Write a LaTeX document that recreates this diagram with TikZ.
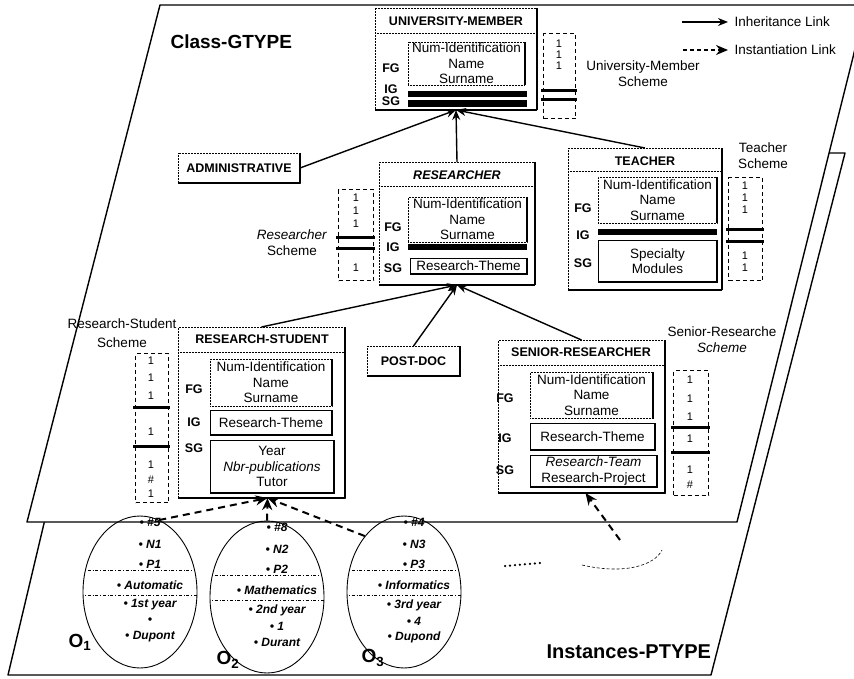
\documentclass[tikz,border=0pt]{standalone}
\usepackage{fontspec}
\setmainfont{Liberation Sans}
\usetikzlibrary{shapes,arrows.meta}

\tikzset{
  plane/.style={draw,line width=1.4pt,fill=white,line join=round},
  rim/.style={append after command={
      (\tikzlastnode.north east) edge[solid,line width=1.6pt] (\tikzlastnode.south east)
      (\tikzlastnode.south east) edge[solid,line width=1.6pt] (\tikzlastnode.south west)}},
  rimr/.style={append after command={
      (\tikzlastnode.north east) edge[solid,line width=1.6pt] (\tikzlastnode.south east)}},
  classbox/.style={draw,densely dotted,line width=0.5pt,inner sep=0pt,outer sep=0pt,anchor=north west,rim},
  title/.style={font=\fontsize{12.5}{14}\selectfont\bfseries},
  sepline/.style={densely dotted,line width=0.5pt},
  grp/.style={font=\fontsize{12.5}{14}\selectfont\bfseries,inner sep=0pt},
  fgbox/.style={draw,densely dotted,line width=0.5pt,inner sep=0pt,outer sep=0pt,anchor=north west,
      font=\fontsize{13.5}{15.5}\selectfont,align=center,rimr},
  sgbox/.style={draw,line width=0.8pt,inner sep=0pt,outer sep=0pt,anchor=north west,
      font=\fontsize{13.5}{15.5}\selectfont,align=center,rim},
  blackbar/.style={fill=black,inner sep=0pt,outer sep=0pt,anchor=north west},
  scheme/.style={draw,line width=1.3pt,dash pattern=on 4pt off 3pt,inner sep=0pt,anchor=north west},
  num/.style={font=\fontsize{11}{12}\selectfont,inner sep=0pt},
  bar/.style={line width=3pt},
  schemelabel/.style={font=\fontsize{13.5}{16}\selectfont,align=center},
  inh/.style={line width=1.4pt,-{Stealth[length=10pt,width=8pt]}},
  ins/.style={line width=2pt,dash pattern=on 7pt off 5pt,-{Stealth[length=12pt,width=10pt]}},
  inst/.style={draw,ellipse,line width=0.9pt,inner sep=0pt,minimum width=114pt,minimum height=152pt},
  item/.style={font=\fontsize{12}{14}\selectfont\bfseries\itshape,inner sep=0pt},
  cut/.style={line width=0.5pt,dash pattern=on 3pt off 2pt on 0.6pt off 2pt},
  planelabel/.style={font=\fontsize{19}{22}\selectfont\bfseries,anchor=west},
  objlabel/.style={font=\fontsize{19}{22}\selectfont\bfseries},
}

\begin{document}
\begin{tikzpicture}[x=1pt,y=-1pt]
\path[use as bounding box] (0,0) rectangle (854,679);
\clip (0,0) rectangle (854,679);
% the two planes
\draw[plane] (132,153) -- (845,153) -- (711,675) -- (8,675) -- cycle;
\draw[plane] (160,5) -- (866,5) -- (737,522) -- (27,522) -- cycle;
\node[planelabel] (gtype) at (167,42) {Class-GTYPE};
\node[planelabel,font=\fontsize{20}{22}\selectfont\bfseries] (ptype) at (543,652) {Instances-PTYPE};

% legend
\coordinate (li1) at (682,22);
\coordinate (li2) at (728,22);
\coordinate (ls1) at (683,50);
\coordinate (ls2) at (728,50);
\draw[inh] (li1) -- (li2);
\draw[ins,line width=1.5pt,dash pattern=on 4pt off 3pt] (ls1) -- (ls2);
\node[anchor=west,schemelabel] (linh) at (731,22) {Inheritance Link};
\node[anchor=west,schemelabel] (lins) at (731,50) {Instantiation Link};

% university-member
\node[classbox,minimum width=162pt,minimum height=102pt] (um) at (375,8) {};
\node[title] (umt) at (456,21) {UNIVERSITY-MEMBER};
\draw[sepline] (375,33) -- (537,33);
\node[grp] (umfg) at (391,68) {FG};
\node[grp] (umig) at (391,89) {IG};
\node[grp] (umsg) at (391,101) {SG};
\node[fgbox,minimum width=117pt,minimum height=43pt] (umf) at (408,42) {Num-Identification\\Name\\Surname};
\node[blackbar,minimum width=119pt,minimum height=6pt] (umi) at (408,91) {};
\node[blackbar,minimum width=119pt,minimum height=7pt] (ums) at (408,100) {};
% its scheme
\node[scheme,minimum width=32pt,minimum height=85pt] (umsc) at (543,33) {};
\node[num] (umsc1) at (559,44) {1};
\node[num] (umsc2) at (559,55) {1};
\node[num] (umsc3) at (559,66) {1};
\draw[bar] (541,91) -- (577,91);
\draw[bar] (541,100) -- (577,100);
\node[schemelabel] (umscl) at (643,74) {University-Member\\Scheme};

% administrative
\node[classbox,title,minimum width=122pt,minimum height=30pt] (adm) at (178,153) {ADMINISTRATIVE};

% researcher
\node[classbox,minimum width=156pt,minimum height=123pt] (res) at (379,162) {};
\node[title] (rest) at (457,175) {\itshape RESEARCHER};
\draw[sepline] (379,186) -- (535,186);
\node[grp] (resfg) at (393,227) {FG};
\node[grp] (resig) at (393,247) {IG};
\node[grp] (ressg) at (393,268) {SG};
\node[fgbox,minimum width=119pt,minimum height=45pt] (resf) at (408,197) {Num-Identification\\Name\\Surname};
\node[blackbar,minimum width=119pt,minimum height=6pt] (resi) at (408,244) {};
\node[sgbox,minimum width=117pt,minimum height=16pt] (ress) at (410,258) {Research-Theme};
% its scheme
\node[scheme,minimum width=35pt,minimum height=91pt] (ressc) at (338,189) {};
\node[num] (ressc1) at (356,198) {1};
\node[num] (ressc2) at (356,211) {1};
\node[num] (ressc3) at (356,224) {1};
\draw[bar] (336,238) -- (375,238);
\draw[bar] (336,248) -- (375,248);
\node[num] (ressc4) at (356,268) {1};
\node[schemelabel] (resscl) at (292,243) {\textit{Researcher}\\Scheme};

% teacher
\node[classbox,minimum width=154pt,minimum height=142pt] (tea) at (568,148) {};
\node[title] (teat) at (645,161) {TEACHER};
\draw[sepline] (568,171) -- (722,171);
\node[grp] (teafg) at (583,208) {FG};
\node[grp] (teaig) at (583,235) {IG};
\node[grp] (teasg) at (583,263) {SG};
\node[fgbox,minimum width=119pt,minimum height=46pt] (teaf) at (598,177) {Num-Identification\\Name\\Surname};
\node[blackbar,minimum width=119pt,minimum height=6pt] (teai) at (598,229) {};
\node[sgbox,minimum width=119pt,minimum height=42pt] (teas) at (598,240) {Specialty\\Modules};
% its scheme
\node[scheme,minimum width=34pt,minimum height=103pt] (teasc) at (728,177) {};
\node[num] (teasc1) at (745,186) {1};
\node[num] (teasc2) at (745,198) {1};
\node[num] (teasc3) at (745,210) {1};
\draw[bar] (726,230) -- (764,230);
\draw[bar] (726,242) -- (764,242);
\node[num] (teasc4) at (745,256) {1};
\node[num] (teasc5) at (745,268) {1};
\node[schemelabel] (teascl) at (763,156) {Teacher\\Scheme};

% research-student
\node[classbox,minimum width=167pt,minimum height=171pt] (rs) at (178,327) {};
\node[title] (rst) at (262,339) {RESEARCH-STUDENT};
\draw[sepline] (178,352) -- (345,352);
\node[grp] (rsfg) at (194,389) {FG};
\node[grp] (rsig) at (194,422) {IG};
\node[grp] (rssg) at (194,448) {SG};
\node[fgbox,minimum width=122pt,minimum height=47pt] (rsf) at (210,359) {Num-Identification\\Name\\Surname};
\node[sgbox,minimum width=122pt,minimum height=25pt] (rsi) at (210,410) {Research-Theme};
\node[sgbox,minimum width=124pt,minimum height=53pt] (rss) at (210,440) {Year\\\textit{Nbr-publications}\\Tutor};
% its scheme
\node[scheme,minimum width=33pt,minimum height=149pt] (rssc) at (135,353) {};
\node[num] (rssc1) at (151,361) {1};
\node[num] (rssc2) at (151,378) {1};
\node[num] (rssc3) at (151,396) {1};
\draw[bar] (133,407) -- (170,407);
\node[num] (rssc4) at (151,432) {1};
\draw[bar] (133,446) -- (170,446);
\node[num] (rssc5) at (151,465) {1};
\node[num] (rssc6) at (151,480) {\#};
\node[num] (rssc7) at (151,494) {1};
\node[schemelabel] (rsscl) at (122,333) {Research-Student\\[3pt]Scheme};

% post-doc
\node[classbox,title,minimum width=93pt,minimum height=30pt] (pd) at (367,346) {POST-DOC};

% senior-researcher
\node[classbox,minimum width=167pt,minimum height=153pt] (sr) at (498,340) {};
\node[title] (srt) at (581,352) {SENIOR-RESEARCHER};
\draw[sepline] (498,365) -- (665,365);
\node[grp] (srfg) at (505,398) {FG};
\node[grp] (srig) at (505,438) {IG};
\node[grp] (srsg) at (505,470) {SG};
\node[fgbox,minimum width=123pt,minimum height=46pt] (srf) at (530,372) {Num-Identification\\Name\\Surname};
\node[sgbox,minimum width=125pt,minimum height=27pt] (sri) at (530,423) {Research-Theme};
\node[sgbox,minimum width=127pt,minimum height=32pt] (srs) at (530,455) {\textit{Research-Team}\\Research-Project};
% its scheme
\node[scheme,minimum width=35pt,minimum height=125pt] (srsc) at (673,370) {};
\node[num] (srsc1) at (690,380) {1};
\node[num] (srsc2) at (690,399) {1};
\node[num] (srsc3) at (690,417) {1};
\draw[bar] (671,427) -- (710,427);
\node[num] (srsc4) at (690,439) {1};
\draw[bar] (671,452) -- (710,452);
\node[num] (srsc5) at (690,470) {1};
\node[num] (srsc6) at (690,485) {\#};
\node[schemelabel] (srscl) at (722,340) {Senior-Researche\\\textit{Scheme}};

% inheritance links
\draw[inh] (adm.east) -- (um.south);
\draw[inh] (res.north) -- (um.south);
\draw[inh] (tea.north) -- (um.south);
\draw[inh] (rs.north) -- (res.south);
\draw[inh] (pd.north) -- (res.south);
\draw[inh] (sr.north) -- (res.south);

% instances
\node[inst] (o1) at (140,592) {};
\node[inst] (o2) at (267,597) {};
\node[inst] (o3) at (404,592) {};
\begin{scope}
\clip (o1.center) ellipse [x radius=57pt,y radius=76pt];
\draw[cut] (80,570) -- (200,570) (80,595) -- (200,595);
\end{scope}
\begin{scope}
\clip (o2.center) ellipse [x radius=57pt,y radius=76pt];
\draw[cut] (207,575) -- (327,575) (207,600) -- (327,600);
\end{scope}
\begin{scope}
\clip (o3.center) ellipse [x radius=57pt,y radius=76pt];
\draw[cut] (344,570) -- (464,570) (344,595) -- (464,595);
\end{scope}
\node[item] (o1a) at (150,522) {\textbullet\ \#5};
\node[item] (o1b) at (150,544) {\textbullet\ N1};
\node[item] (o1c) at (150,564) {\textbullet\ P1};
\node[item] (o1d) at (150,585) {\textbullet\ Automatic};
\node[item] (o1e) at (150,605) {\textbullet\ 1st year};
\node[item] (o1f) at (150,621) {\textbullet};
\node[item] (o1g) at (150,637) {\textbullet\ Dupont};
\node[item] (o2a) at (277,527) {\textbullet\ \#8};
\node[item] (o2b) at (277,549) {\textbullet\ N2};
\node[item] (o2c) at (277,569) {\textbullet\ P2};
\node[item] (o2d) at (277,590) {\textbullet\ Mathematics};
\node[item] (o2e) at (277,610) {\textbullet\ 2nd year};
\node[item] (o2f) at (277,626) {\textbullet\ 1};
\node[item] (o2g) at (277,642) {\textbullet\ Durant};
\node[item] (o3a) at (414,522) {\textbullet\ \#4};
\node[item] (o3b) at (414,544) {\textbullet\ N3};
\node[item] (o3c) at (414,564) {\textbullet\ P3};
\node[item] (o3d) at (414,585) {\textbullet\ Informatics};
\node[item] (o3e) at (414,605) {\textbullet\ 3rd year};
\node[item] (o3f) at (414,621) {\textbullet\ 4};
\node[item] (o3g) at (414,637) {\textbullet\ Dupond};
\node[objlabel] (o1l) at (80,642) {O\textsubscript{1}};
\node[objlabel] (o2l) at (228,660) {O\textsubscript{2}};
\node[objlabel] (o3l) at (373,658) {O\textsubscript{3}};
% other instances
\draw[line width=2.5pt,line cap=round,dash pattern=on 0pt off 5pt] (505,566) -- (540,563);
\draw[line width=0.6pt,densely dashed] (582,565) .. controls (625,575) and (655,565) .. (662,550);
\coordinate (srsrc) at (620,540);

% instantiation links
\draw[ins] (o1.75) -- ([xshift=6pt]rs.south);
\draw[ins] (o2.north) -- ([xshift=6pt]rs.south);
\draw[ins] (o3.125) -- ([xshift=6pt]rs.south);
\draw[ins] (srsrc) -- ([xshift=4pt]sr.south);
\end{tikzpicture}
\end{document}
